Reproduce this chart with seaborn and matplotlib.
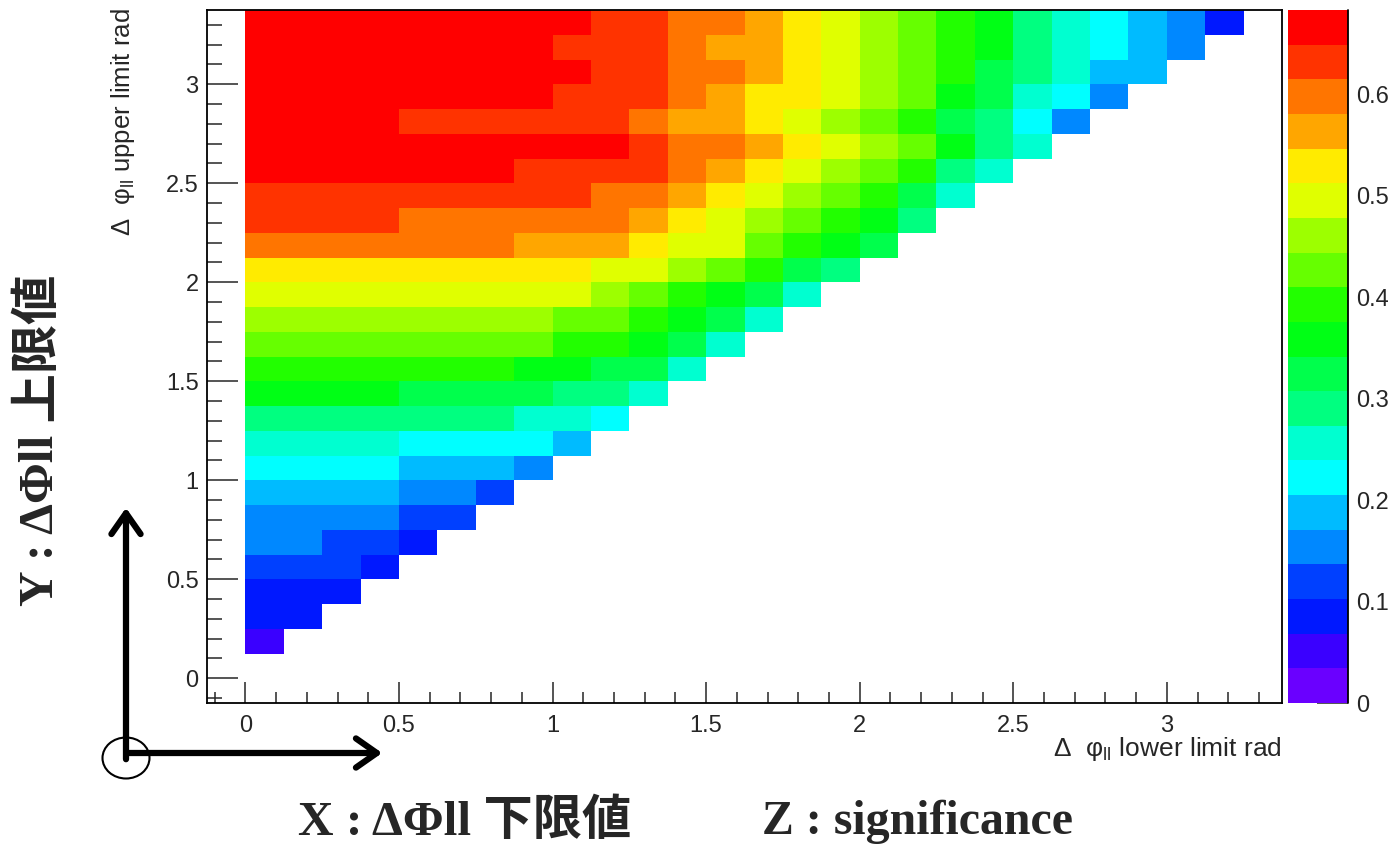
import numpy as np
import pandas as pd
import matplotlib
matplotlib.use("Agg")
import matplotlib.pyplot as plt
import seaborn as sns
from matplotlib.colors import ListedColormap
from matplotlib.patches import FancyArrowPatch, Ellipse

# ---------------- data ----------------
BIN = 0.125            # bin width of both axes (rad)
X_MIN, X_MAX = -0.125, 3.375
Y_MIN, Y_MAX = -0.125, 3.375
Z_MAX = 0.683

# significance, one list per upper-limit bin (lower edge = j*BIN), columns start at lower limit 0
sig_y01 = [0.05]
sig_y02 = [0.09, 0.09]
sig_y03 = [0.09, 0.09, 0.09]
sig_y04 = [0.12, 0.12, 0.12, 0.09]
sig_y05 = [0.15, 0.15, 0.12, 0.12, 0.09]
sig_y06 = [0.15, 0.15, 0.15, 0.15, 0.12, 0.12]
sig_y07 = [0.19, 0.19, 0.19, 0.19, 0.15, 0.15, 0.12]
sig_y08 = [0.22, 0.22, 0.22, 0.22, 0.19, 0.19, 0.19, 0.15]
sig_y09 = [0.26, 0.26, 0.26, 0.26, 0.22, 0.22, 0.22, 0.22, 0.19]
sig_y10 = [0.29, 0.29, 0.29, 0.29, 0.29, 0.29, 0.29, 0.26, 0.26, 0.22]
sig_y11 = [0.36, 0.36, 0.36, 0.36, 0.32, 0.32, 0.32, 0.32, 0.29, 0.29, 0.26]
sig_y12 = [0.39, 0.39, 0.39, 0.39, 0.39, 0.39, 0.39, 0.36, 0.36, 0.32, 0.32, 0.26]
sig_y13 = [0.43, 0.43, 0.43, 0.43, 0.43, 0.43, 0.43, 0.43, 0.39, 0.39, 0.36, 0.32, 0.26]
sig_y14 = [0.46, 0.46, 0.46, 0.46, 0.46, 0.46, 0.46, 0.46, 0.43, 0.43, 0.39, 0.36, 0.32, 0.26]
sig_y15 = [0.50, 0.50, 0.50, 0.50, 0.50, 0.50, 0.50, 0.50, 0.50, 0.46, 0.43, 0.39, 0.36, 0.32,
           0.26]
sig_y16 = [0.53, 0.53, 0.53, 0.53, 0.53, 0.53, 0.53, 0.53, 0.53, 0.50, 0.50, 0.46, 0.43, 0.39,
           0.32, 0.29]
sig_y17 = [0.60, 0.60, 0.60, 0.60, 0.60, 0.60, 0.60, 0.56, 0.56, 0.56, 0.53, 0.50, 0.50, 0.43,
           0.39, 0.36, 0.32]
sig_y18 = [0.63, 0.63, 0.63, 0.63, 0.60, 0.60, 0.60, 0.60, 0.60, 0.60, 0.56, 0.53, 0.50, 0.46,
           0.43, 0.39, 0.36, 0.29]
sig_y19 = [0.63, 0.63, 0.63, 0.63, 0.63, 0.63, 0.63, 0.63, 0.63, 0.60, 0.60, 0.56, 0.53, 0.50,
           0.46, 0.43, 0.39, 0.32, 0.26]
sig_y20 = [0.67, 0.67, 0.67, 0.67, 0.67, 0.67, 0.67, 0.63, 0.63, 0.63, 0.63, 0.60, 0.56, 0.53,
           0.50, 0.46, 0.43, 0.39, 0.29, 0.26]
sig_y21 = [0.67, 0.67, 0.67, 0.67, 0.67, 0.67, 0.67, 0.67, 0.67, 0.67, 0.63, 0.60, 0.60, 0.56,
           0.53, 0.50, 0.46, 0.43, 0.36, 0.29, 0.26]
sig_y22 = [0.67, 0.67, 0.67, 0.67, 0.63, 0.63, 0.63, 0.63, 0.63, 0.63, 0.60, 0.56, 0.56, 0.53,
           0.50, 0.46, 0.43, 0.39, 0.32, 0.29, 0.22, 0.15]
sig_y23 = [0.67, 0.67, 0.67, 0.67, 0.67, 0.67, 0.67, 0.67, 0.63, 0.63, 0.63, 0.60, 0.56, 0.53,
           0.53, 0.50, 0.46, 0.43, 0.36, 0.32, 0.26, 0.22, 0.15]
sig_y24 = [0.67, 0.67, 0.67, 0.67, 0.67, 0.67, 0.67, 0.67, 0.67, 0.63, 0.63, 0.60, 0.60, 0.56,
           0.53, 0.50, 0.46, 0.43, 0.39, 0.32, 0.29, 0.26, 0.19, 0.19]
sig_y25 = [0.67, 0.67, 0.67, 0.67, 0.67, 0.67, 0.67, 0.67, 0.63, 0.63, 0.63, 0.60, 0.56, 0.56,
           0.53, 0.50, 0.46, 0.43, 0.39, 0.36, 0.29, 0.26, 0.22, 0.19, 0.15]
sig_y26 = [0.67, 0.67, 0.67, 0.67, 0.67, 0.67, 0.67, 0.67, 0.67, 0.63, 0.63, 0.60, 0.60, 0.56,
           0.53, 0.50, 0.46, 0.43, 0.39, 0.36, 0.29, 0.26, 0.22, 0.19, 0.15, 0.09]

sig_rows = [sig_y01, sig_y02, sig_y03, sig_y04, sig_y05, sig_y06, sig_y07, sig_y08, sig_y09,
            sig_y10, sig_y11, sig_y12, sig_y13, sig_y14, sig_y15, sig_y16, sig_y17, sig_y18,
            sig_y19, sig_y20, sig_y21, sig_y22, sig_y23, sig_y24, sig_y25, sig_y26]

x_major = [0, 0.5, 1, 1.5, 2, 2.5, 3]
x_major_labels = ["0", "0.5", "1", "1.5", "2", "2.5", "3"]
y_major = [0, 0.5, 1, 1.5, 2, 2.5, 3]
y_major_labels = ["0", "0.5", "1", "1.5", "2", "2.5", "3"]
minor_vals = [-0.1, 0.1, 0.2, 0.3, 0.4, 0.6, 0.7, 0.8, 0.9, 1.1, 1.2, 1.3, 1.4, 1.6, 1.7, 1.8,
              1.9, 2.1, 2.2, 2.3, 2.4, 2.6, 2.7, 2.8, 2.9, 3.1, 3.2, 3.3]
z_ticks = [0, 0.1, 0.2, 0.3, 0.4, 0.5, 0.6]
z_tick_labels = ["0", "0.1", "0.2", "0.3", "0.4", "0.5", "0.6"]

# ROOT-like 20-level rainbow palette (bottom to top)
palette20 = ["#6a00ff", "#3a00ff", "#0018ff", "#0040ff", "#0088ff", "#00bbff", "#00ffff",
             "#00ffd0", "#00ff80", "#00ff4c", "#00ff15", "#22ff00", "#66ff00", "#9dff00",
             "#e0ff00", "#ffeb00", "#ffa600", "#ff7500", "#ff3300", "#ff0000"]

# ---------------- build table ----------------
n_x = int(round((X_MAX - X_MIN) / BIN))
n_y = int(round((Y_MAX - Y_MIN) / BIN))
Z = np.full((n_y, n_x), np.nan)
for j, row in enumerate(sig_rows, start=1):
    Z[j + 1, 1:1 + len(row)] = row
x_lo = [round(X_MIN + k * BIN, 4) for k in range(n_x)]
y_lo = [round(Y_MIN + k * BIN, 4) for k in range(n_y)]
df = pd.DataFrame(Z, index=y_lo, columns=x_lo)

# ---------------- figure ----------------
sns.set_style("white")
plt.rcParams["font.family"] = ["Liberation Sans", "DejaVu Sans"]
plt.rcParams["mathtext.fontset"] = "custom"
plt.rcParams["mathtext.rm"] = "Liberation Sans"
plt.rcParams["mathtext.it"] = "Liberation Sans:italic"
plt.rcParams["mathtext.bf"] = "Liberation Sans:bold"

W, H = 1400, 844
fig = plt.figure(figsize=(W / 100, H / 100), dpi=100)


def fx(px):
    return px / W


def fy(py):
    return 1 - py / H


ax = fig.add_axes([fx(207), fy(703), fx(1282) - fx(207), fy(10) - fy(703)])
cax = fig.add_axes([fx(1288), fy(703), fx(1348) - fx(1288), fy(10) - fy(703)])

sns.heatmap(df, ax=ax, cbar_ax=cax, cmap=ListedColormap(palette20), vmin=0, vmax=Z_MAX,
            xticklabels=False, yticklabels=False, linewidths=0)

ax.set_xlim(0, n_x)
ax.set_ylim(0, n_y)
ax.set_xlabel("")
ax.set_ylabel("")


def to_x(v):
    return (v - X_MIN) / BIN


def to_y(v):
    return (v - Y_MIN) / BIN


ax.set_xticks([to_x(v) for v in x_major])
ax.set_xticklabels(x_major_labels)
ax.set_xticks([to_x(v) for v in minor_vals], minor=True)
ax.set_yticks([to_y(v) for v in y_major])
ax.set_yticklabels(y_major_labels)
ax.set_yticks([to_y(v) for v in minor_vals], minor=True)

ax.tick_params(axis="x", which="major", direction="in", length=15, width=1.1,
               labelsize=17, pad=9, bottom=True, top=False, labelrotation=0)
ax.tick_params(axis="x", which="minor", direction="in", length=8, width=1.1,
               bottom=True, top=False)
ax.tick_params(axis="y", which="major", direction="in", length=22, width=1.1,
               labelsize=17, pad=6, left=True, right=False, labelrotation=0)
ax.tick_params(axis="y", which="minor", direction="in", length=11, width=1.1,
               left=True, right=False)
for s in ax.spines.values():
    s.set_visible(True)
    s.set_color("black")
    s.set_linewidth(1.3)

cbar = ax.collections[0].colorbar
cbar.set_ticks(z_ticks)
cbar.set_ticklabels(z_tick_labels)
cbar.outline.set_visible(False)
cax.tick_params(axis="y", which="both", direction="in", length=22, width=1.1,
                labelsize=17, pad=6, right=True, left=False)
cax.minorticks_off()
cax.plot([1, 1], [0, 1], transform=cax.transAxes, color="black", lw=1.3, clip_on=False)

# axis titles (ROOT style)
fig.text(fx(1282), fy(749), r"Δ  φ$_{\mathrm{ll}}$ lower limit rad", ha="right", va="center",
         fontsize=19)
fig.text(fx(123), fy(8), r"Δ  φ$_{\mathrm{ll}}$ upper limit rad", ha="center", va="top",
         rotation=90, fontsize=18.5)

# slide annotations
jp = ["Liberation Serif", "Noto Sans CJK JP"]
fig.text(fx(465), fy(822), "X : ΔΦll 下限値", ha="center", va="center", fontsize=35.5,
         fontweight="bold", family=jp)
fig.text(fx(917), fy(822), "Z : significance", ha="center", va="center", fontsize=34.5,
         fontweight="bold", family=jp)
fig.text(fx(40), fy(440), "Y : ΔΦll 上限値", ha="center", va="center", fontsize=35.5,
         fontweight="bold", family=jp, rotation=90)

fig.add_artist(FancyArrowPatch((fx(126), fy(762)), (fx(126), fy(505)), transform=fig.transFigure,
                               arrowstyle="->,head_length=0.5,head_width=0.35",
                               mutation_scale=30, lw=4.5, color="black"))
fig.add_artist(FancyArrowPatch((fx(124), fy(753)), (fx(385), fy(753)), transform=fig.transFigure,
                               arrowstyle="->,head_length=0.5,head_width=0.35",
                               mutation_scale=30, lw=4.5, color="black"))
fig.add_artist(Ellipse((fx(126), fy(758)), width=47 / W, height=41 / H,
                       transform=fig.transFigure, fill=False, lw=1.5, color="black"))

fig.savefig("out.png", dpi=100)
